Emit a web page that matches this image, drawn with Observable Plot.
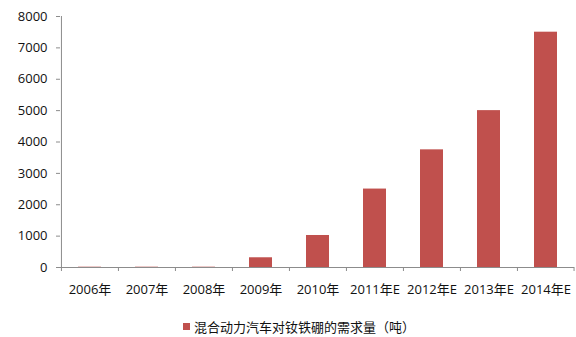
<!DOCTYPE html>
<html><head><meta charset="utf-8">
<script src="https://cdn.jsdelivr.net/npm/d3@7"></script>
<script src="https://cdn.jsdelivr.net/npm/@observablehq/plot@0.6"></script>
<style>
body{margin:0;background:#fff;font-family:"Open Sans","Noto Sans CJK SC",sans-serif;}
#legend{position:relative;height:32px;font-size:13px;color:#111;}
#legend .item{position:absolute;left:183px;top:12px;display:flex;align-items:center;white-space:nowrap;font-family:"Noto Sans CJK SC",sans-serif;}
#legend .sw{width:7px;height:7px;background:#C0504D;margin-right:4px;}
</style></head>
<body><div id="chart"></div><div id="legend"></div>
<script>
const categories = ["2006年","2007年","2008年","2009年","2010年","2011年E","2012年E","2013年E","2014年E"];
const values = [10, 10, 10, 310, 1020, 2500, 3750, 5000, 7500];
const seriesName = "混合动力汽车对钕铁硼的需求量（吨）";
const yTicks = [0,1000,2000,3000,4000,5000,6000,7000,8000];

const data = categories.map((c,i)=>({cat:c, value:values[i]}));
const W = 576, H = 305, mL = 60, mR = 2, mT = 16, mB = 38;
const bw = (W - mL - mR) / categories.length;
const axisColor = "#8c8c8c";
const tickExt = 4 / ((H - mT - mB) / 8000);

const chart = Plot.plot({
  width: W, height: H,
  marginLeft: mL, marginRight: mR, marginTop: mT, marginBottom: mB,
  style: {fontFamily: '"Open Sans","Noto Sans CJK SC",sans-serif', fontSize: "13px", color: "#111"},
  x: {domain: categories, padding: 0, label: null},
  y: {domain: [0, 8000], label: null},
  marks: [
    Plot.barY(data, {x: "cat", y: "value", fill: "#C0504D", insetLeft: 17, insetRight: 17}),
    Plot.axisY({ticks: yTicks, tickSize: 4, tickPadding: 9, stroke: axisColor, tickFormat: d => String(d), fill: "#111", fontSize: 13}),
    Plot.axisX({tickSize: 0, tickPadding: 17, fill: "#111", fontSize: 13}),
    Plot.ruleX([categories[0]], {x: d => d, dx: -bw/2, y1: 0, y2: 8000, stroke: axisColor}),
    Plot.ruleY([0], {stroke: axisColor}),
    Plot.ruleX(categories, {x: d => d, dx: -bw/2, y1: 0, y2: -tickExt, stroke: axisColor}),
    Plot.ruleX([categories[categories.length-1]], {x: d => d, dx: bw/2 - 0.5, y1: 0, y2: -tickExt, stroke: axisColor})
  ]
});
document.getElementById("chart").appendChild(chart);
document.getElementById("legend").innerHTML = `<div class="item"><span class="sw"></span><span>${seriesName}</span></div>`;
</script></body></html>
